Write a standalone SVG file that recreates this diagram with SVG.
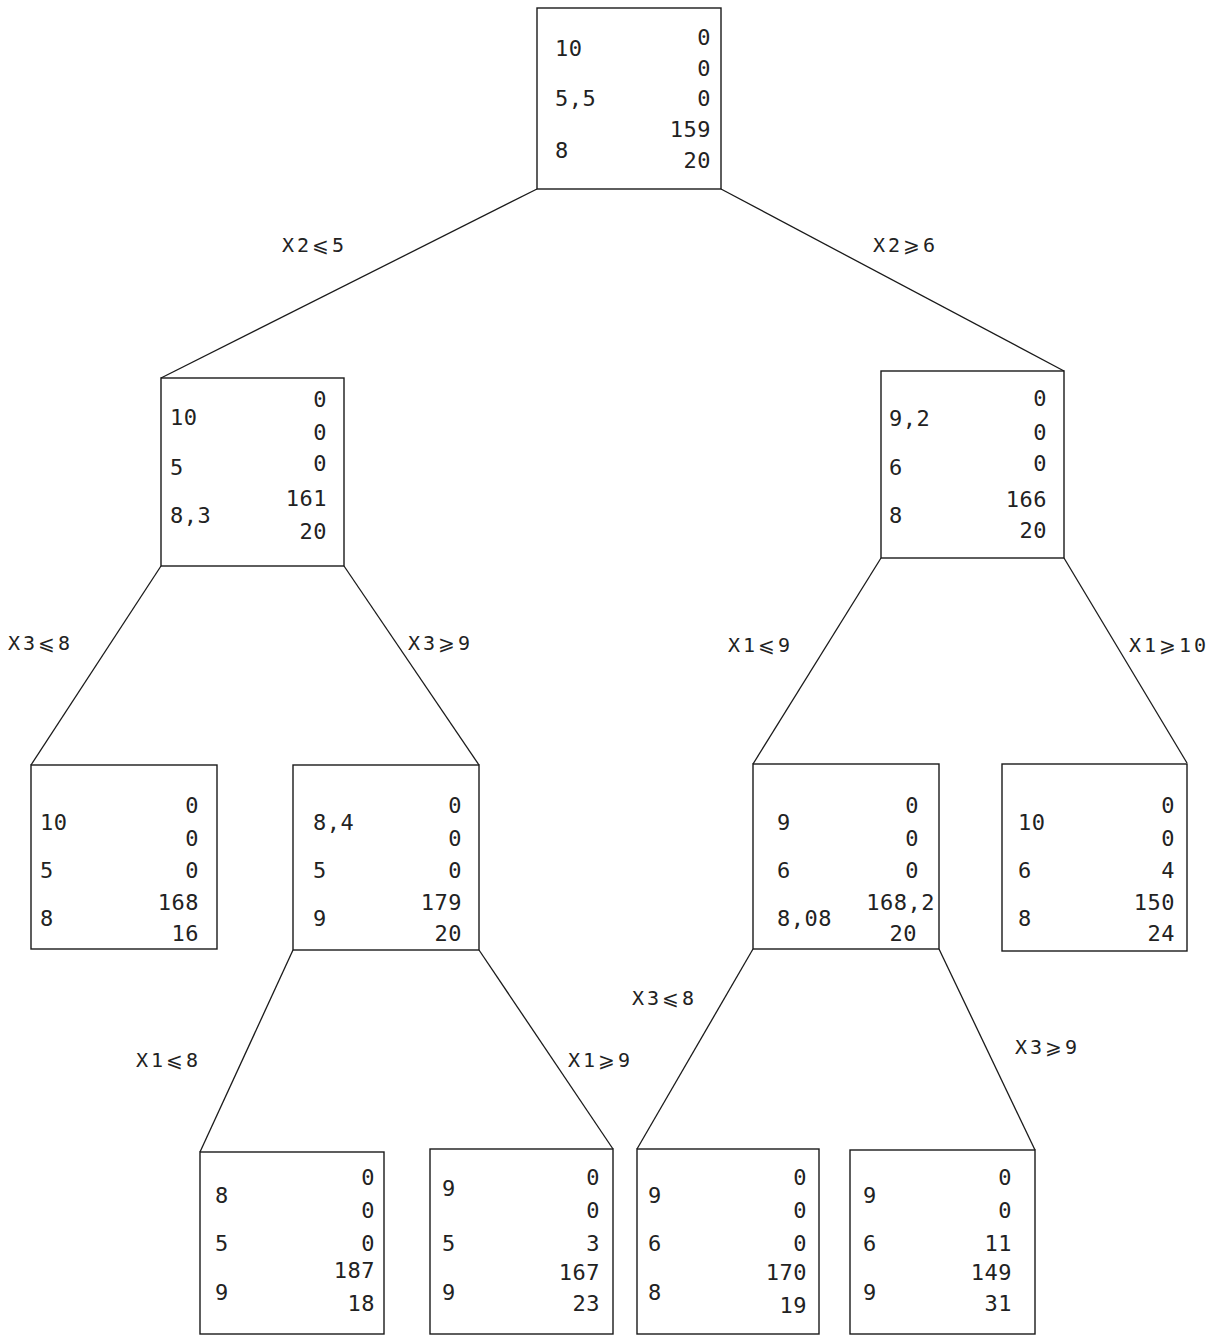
<svg xmlns="http://www.w3.org/2000/svg" width="1221" height="1336" viewBox="0 0 1221 1336">
<style>
.box{fill:none;stroke:#1a1a1a;stroke-width:1.4}
.edge{stroke:#1a1a1a;stroke-width:1.3;fill:none}
text{font-family:"DejaVu Sans Mono","Liberation Mono",monospace;font-size:22px;letter-spacing:0.5px;fill:#222;font-weight:300;dominant-baseline:central}
.r{text-anchor:end}
.lbl{font-size:20px;letter-spacing:3px}
</style>
<rect width="1221" height="1336" fill="#fff"/>
<g id="connectors">
<line class="edge" x1="537" y1="189" x2="161" y2="378"/>
<line class="edge" x1="721" y1="189" x2="1064" y2="371"/>
<line class="edge" x1="161" y1="566" x2="31" y2="765"/>
<line class="edge" x1="344" y1="566" x2="479" y2="765"/>
<line class="edge" x1="881" y1="558" x2="753" y2="764"/>
<line class="edge" x1="1064" y1="558" x2="1187" y2="763"/>
<line class="edge" x1="293" y1="950" x2="200" y2="1152"/>
<line class="edge" x1="479" y1="950" x2="613" y2="1149"/>
<line class="edge" x1="753" y1="949" x2="637" y2="1149"/>
<line class="edge" x1="939" y1="949" x2="1035" y2="1150"/>
<text class="lbl" x="282" y="245">X2⩽5</text>
<text class="lbl" x="873" y="245">X2⩾6</text>
<text class="lbl" x="8" y="643">X3⩽8</text>
<text class="lbl" x="408" y="643">X3⩾9</text>
<text class="lbl" x="728" y="645">X1⩽9</text>
<text class="lbl" x="1129" y="645">X1⩾10</text>
<text class="lbl" x="632" y="998">X3⩽8</text>
<text class="lbl" x="1015" y="1047">X3⩾9</text>
<text class="lbl" x="136" y="1060">X1⩽8</text>
<text class="lbl" x="568" y="1060">X1⩾9</text>
</g>
<g id="n-root">
<rect class="box" x="537" y="8" width="184" height="181"/>
<text x="555" y="48">10</text><text x="555" y="98">5,5</text><text x="555" y="150">8</text>
<text class="r" x="711" y="37">0</text><text class="r" x="711" y="68">0</text><text class="r" x="711" y="98">0</text><text class="r" x="711" y="129">159</text><text class="r" x="711" y="160">20</text>
</g>
<g id="n-l1">
<rect class="box" x="161" y="378" width="183" height="188"/>
<text x="170" y="417">10</text><text x="170" y="467">5</text><text x="170" y="515">8,3</text>
<text class="r" x="327" y="399">0</text><text class="r" x="327" y="432">0</text><text class="r" x="327" y="463">0</text><text class="r" x="327" y="498">161</text><text class="r" x="327" y="531">20</text>
</g>
<g id="n-r1">
<rect class="box" x="881" y="371" width="183" height="187"/>
<text x="889" y="418">9,2</text><text x="889" y="467">6</text><text x="889" y="515">8</text>
<text class="r" x="1047" y="398">0</text><text class="r" x="1047" y="432">0</text><text class="r" x="1047" y="463">0</text><text class="r" x="1047" y="499">166</text><text class="r" x="1047" y="530">20</text>
</g>
<g id="n-ll">
<rect class="box" x="31" y="765" width="186" height="184"/>
<text x="40" y="822">10</text><text x="40" y="870">5</text><text x="40" y="918">8</text>
<text class="r" x="199" y="805">0</text><text class="r" x="199" y="838">0</text><text class="r" x="199" y="870">0</text><text class="r" x="199" y="902">168</text><text class="r" x="199" y="933">16</text>
</g>
<g id="n-lr">
<rect class="box" x="293" y="765" width="186" height="185"/>
<text x="313" y="822">8,4</text><text x="313" y="870">5</text><text x="313" y="918">9</text>
<text class="r" x="462" y="805">0</text><text class="r" x="462" y="838">0</text><text class="r" x="462" y="870">0</text><text class="r" x="462" y="902">179</text><text class="r" x="462" y="933">20</text>
</g>
<g id="n-rl">
<rect class="box" x="753" y="764" width="186" height="185"/>
<text x="777" y="822">9</text><text x="777" y="870">6</text><text x="777" y="918">8,08</text>
<text class="r" x="919" y="805">0</text><text class="r" x="919" y="838">0</text><text class="r" x="919" y="870">0</text><text class="r" x="935" y="902">168,2</text><text class="r" x="917" y="933">20</text>
</g>
<g id="n-rr">
<rect class="box" x="1002" y="764" width="185" height="187"/>
<text x="1018" y="822">10</text><text x="1018" y="870">6</text><text x="1018" y="918">8</text>
<text class="r" x="1175" y="805">0</text><text class="r" x="1175" y="838">0</text><text class="r" x="1175" y="870">4</text><text class="r" x="1175" y="902">150</text><text class="r" x="1175" y="933">24</text>
</g>
<g id="n-a">
<rect class="box" x="200" y="1152" width="184" height="182"/>
<text x="215" y="1195">8</text><text x="215" y="1243">5</text><text x="215" y="1292">9</text>
<text class="r" x="375" y="1177">0</text><text class="r" x="375" y="1210">0</text><text class="r" x="375" y="1243">0</text><text class="r" x="375" y="1270">187</text><text class="r" x="375" y="1303">18</text>
</g>
<g id="n-b">
<rect class="box" x="430" y="1149" width="183" height="185"/>
<text x="442" y="1188">9</text><text x="442" y="1243">5</text><text x="442" y="1292">9</text>
<text class="r" x="600" y="1177">0</text><text class="r" x="600" y="1210">0</text><text class="r" x="600" y="1243">3</text><text class="r" x="600" y="1272">167</text><text class="r" x="600" y="1303">23</text>
</g>
<g id="n-c">
<rect class="box" x="637" y="1149" width="182" height="185"/>
<text x="648" y="1195">9</text><text x="648" y="1243">6</text><text x="648" y="1292">8</text>
<text class="r" x="807" y="1177">0</text><text class="r" x="807" y="1210">0</text><text class="r" x="807" y="1243">0</text><text class="r" x="807" y="1272">170</text><text class="r" x="807" y="1305">19</text>
</g>
<g id="n-d">
<rect class="box" x="850" y="1150" width="185" height="184"/>
<text x="863" y="1195">9</text><text x="863" y="1243">6</text><text x="863" y="1292">9</text>
<text class="r" x="1012" y="1177">0</text><text class="r" x="1012" y="1210">0</text><text class="r" x="1012" y="1243">11</text><text class="r" x="1012" y="1272">149</text><text class="r" x="1012" y="1303">31</text>
</g>
</svg>
